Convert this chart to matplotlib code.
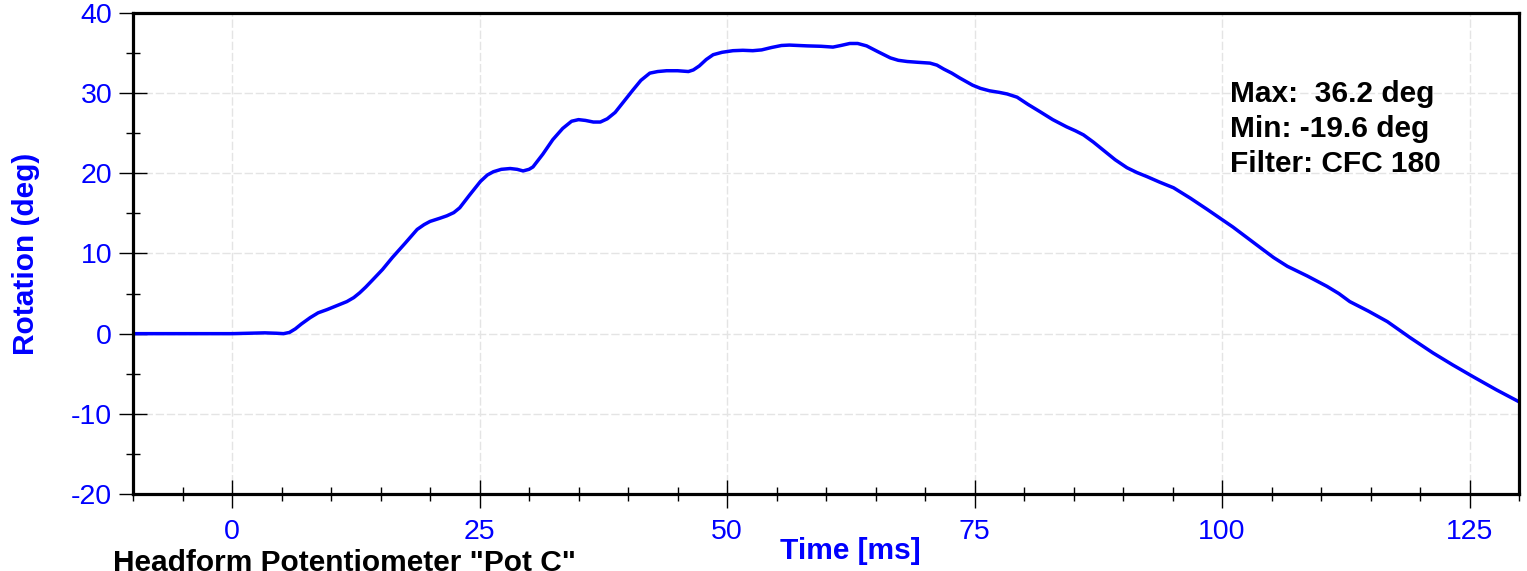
import numpy as np
import matplotlib
matplotlib.use("Agg")
import matplotlib.pyplot as plt
from matplotlib.ticker import MultipleLocator

plt.rcParams["font.family"] = ["Liberation Sans", "DejaVu Sans"]
plt.rcParams["axes.unicode_minus"] = False

# time [ms] and rotation [deg]
time_ms = [-10.0, 0.0, 3.3, 4.5, 5.2, 5.8, 6.4, 7.0, 7.9, 8.7, 9.6, 10.6,
           11.6, 12.3, 12.9, 13.5, 14.2, 15.2, 16.2, 17.5, 18.7, 19.4, 20.0,
           21.0, 21.7, 22.4, 23.0, 24.0, 25.1, 25.8, 26.4, 27.2, 28.1, 28.8,
           29.4, 30.0, 30.4, 31.4, 32.4, 33.4, 34.3, 35.0, 35.7, 36.5, 37.2,
           37.9, 38.7, 39.6, 40.5, 41.3, 42.2, 43.0, 43.9, 45.0, 46.1, 46.6,
           47.2, 47.9, 48.6, 49.5, 50.6, 51.6, 52.6, 53.5, 54.5, 55.5, 56.3,
           57.2, 58.1, 59.5, 60.7, 61.5, 62.4, 63.2, 64.1, 65.2, 66.5, 67.3,
           68.2, 69.3, 70.5, 71.2, 71.9, 72.7, 73.5, 74.8, 75.6, 76.5, 77.5,
           78.3, 79.3, 80.4, 81.6, 82.9, 84.3, 85.2, 86.0, 87.0, 88.0, 89.2,
           90.4, 91.4, 92.4, 93.7, 95.1, 96.8, 98.5, 99.8, 101.1, 102.5,
           103.9, 105.2, 106.6, 108.6, 110.6, 111.8, 112.9, 114.8, 116.7,
           119.0, 121.3, 123.3, 125.4, 127.7, 130.0]
rotation_deg = [0.0, 0.0, 0.1, 0.05, 0.0, 0.15, 0.6, 1.2, 2.0, 2.6, 3.0, 3.5,
                4.0, 4.5, 5.1, 5.8, 6.7, 8.0, 9.5, 11.3, 13.0, 13.6, 14.0,
                14.4, 14.7, 15.1, 15.7, 17.3, 19.0, 19.8, 20.2, 20.5, 20.6, 20.5,
                20.3, 20.5, 20.8, 22.4, 24.2, 25.6, 26.5, 26.7, 26.6, 26.4, 26.4,
                26.8, 27.6, 29.0, 30.4, 31.6, 32.5, 32.7, 32.8, 32.8, 32.7, 32.9,
                33.4, 34.2, 34.8, 35.1, 35.3, 35.35, 35.3, 35.4, 35.7, 35.95, 36.0,
                35.95, 35.9, 35.85, 35.75, 35.95, 36.2, 36.2, 35.9, 35.2, 34.4, 34.1,
                33.95, 33.85, 33.75, 33.5, 33.0, 32.5, 31.9, 31.0, 30.6, 30.3, 30.1,
                29.9, 29.5, 28.6, 27.7, 26.7, 25.8, 25.3, 24.8, 23.9, 22.9, 21.7,
                20.7, 20.1, 19.6, 18.9, 18.2, 16.9, 15.5, 14.4, 13.3, 12.0,
                10.7, 9.5, 8.4, 7.2, 5.9, 5.0, 4.0, 2.8, 1.5,
                -0.5, -2.4, -3.9, -5.4, -7.0, -8.5]

x_ticks = [0, 25, 50, 75, 100, 125]
y_ticks = [-20, -10, 0, 10, 20, 30, 40]
stats_lines = ["Max:  36.2 deg", "Min: -19.6 deg", "Filter: CFC 180"]

blue = "#0000ff"

fig = plt.figure(figsize=(15.27, 5.71), dpi=100)
ax = fig.add_axes([0.0871, 0.1349, 0.9077, 0.8423])

ax.plot(time_ms, rotation_deg, color=blue, lw=2.5, solid_joinstyle="round",
        solid_capstyle="round")

ax.set_xlim(-10, 130)
ax.set_ylim(-20, 40)
ax.set_xticks(x_ticks)
ax.set_yticks(y_ticks)
ax.xaxis.set_minor_locator(MultipleLocator(5))
ax.yaxis.set_minor_locator(MultipleLocator(5))

ax.tick_params(which="major", direction="inout", length=20, width=1.0,
               color="black", labelcolor=blue, labelsize=20.5, pad=5)
ax.tick_params(which="minor", direction="inout", length=10.5, width=1.0,
               color="black")
ax.tick_params(axis="x", which="major", pad=8)

for sp in ax.spines.values():
    sp.set_linewidth(2.3)
    sp.set_color("black")

ax.grid(True, which="major", color="#e4e4e4", lw=1.0, linestyle=(0, (6, 2)))
ax.set_axisbelow(True)

ax.set_ylabel("Rotation (deg)", color=blue, fontsize=21.5, fontweight="bold",
              labelpad=22)

fig.text(0.557, 0.035, "Time [ms]", color=blue, fontsize=21.5,
         fontweight="bold", ha="center", va="center")
fig.text(0.074, 0.0, 'Headform Potentiometer "Pot C"', color="black",
         fontsize=21.5, fontweight="bold", ha="left", va="baseline")

ax.text(0.7915, 0.86, "\n".join(stats_lines), transform=ax.transAxes,
        fontsize=21.5, fontweight="bold", color="black", ha="left", va="top",
        linespacing=1.3)

fig.savefig("out.png", dpi=100)
